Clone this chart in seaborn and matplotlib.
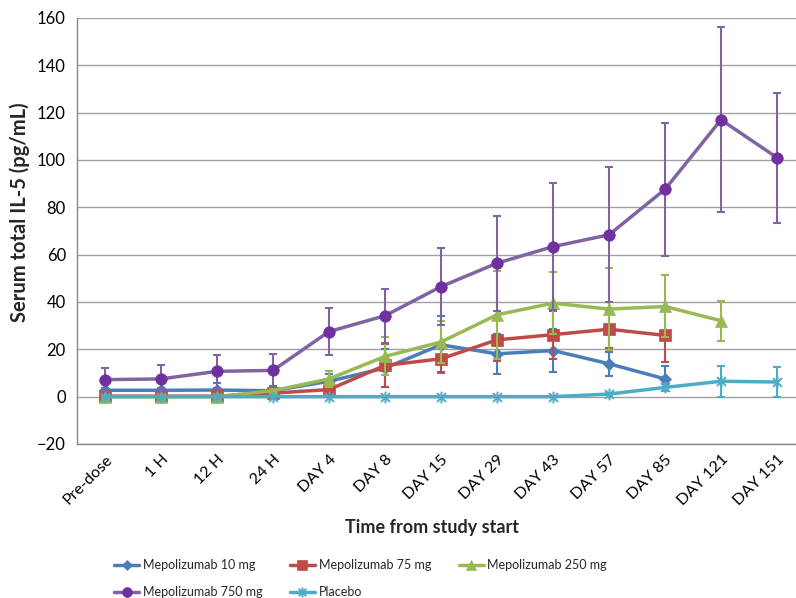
import numpy as np
import pandas as pd
import matplotlib
matplotlib.use("Agg")
import matplotlib.pyplot as plt
from matplotlib.path import Path
import seaborn as sns

categories = ["Pre-dose", "1 H", "12 H", "24 H", "DAY 4", "DAY 8", "DAY 15",
              "DAY 29", "DAY 43", "DAY 57", "DAY 85", "DAY 121", "DAY 151"]

nan = np.nan
mep10 = [2.7, 2.7, 2.8, 2.5, 6.5, 12.1, 21.9, 18.1, 19.5, 13.9, 7.5, nan, nan]
mep10_err = [1.0, 1.0, 2.8, 2.0, 3.0, 8.0, 12.1, 8.5, 9.2, 5.0, 5.3, nan, nan]

mep75 = [0.2, 0.2, 0.2, 1.5, 3.0, 13.2, 16.0, 24.0, 26.2, 28.5, 25.9, nan, nan]
mep75_err = [0.3, 0.3, 0.3, 1.0, 1.5, 9.0, 5.6, 9.1, 10.2, 8.0, 11.3, nan, nan]

mep250 = [0.0, 0.0, 0.0, 2.5, 7.5, 17.0, 23.1, 34.6, 39.5, 37.0, 38.1, 32.1, nan]
mep250_err = [0.3, 0.3, 0.3, 1.0, 3.5, 8.0, 9.0, 18.6, 13.0, 17.3, 13.1, 8.5, nan]

mep750 = [7.2, 7.5, 10.7, 11.1, 27.5, 34.2, 46.5, 56.4, 63.4, 68.4, 87.6, 117.0, 101.0]
mep750_err = [4.9, 5.7, 7.0, 6.9, 10.0, 11.5, 16.2, 20.0, 26.8, 28.5, 28.1, 39.0, 27.5]

placebo = [0.0, 0.0, 0.0, 0.0, 0.0, 0.0, 0.0, 0.0, 0.0, 1.1, 3.9, 6.5, 6.2]
placebo_err = [0.0, 0.0, 0.0, 0.0, 0.0, 0.0, 0.0, 0.0, 0.0, 0.5, 1.5, 6.5, 6.4]

series_names = ["Mepolizumab 10 mg", "Mepolizumab 75 mg", "Mepolizumab 250 mg",
                "Mepolizumab 750 mg", "Placebo"]

sns.set_theme(style="white")
plt.rcParams["font.family"] = ["Lato", "DejaVu Sans"]

star = Path([(0, -1), (0, 1), (-0.75, -0.75), (0.75, 0.75), (-0.75, 0.75), (0.75, -0.75)],
            [Path.MOVETO, Path.LINETO, Path.MOVETO, Path.LINETO, Path.MOVETO, Path.LINETO])

styles = [
    dict(line="#4A7EBB", mk="#4A7EBB", marker="D", ms=6.5),
    dict(line="#BE4B48", mk="#BE4B48", marker="s", ms=8.3),
    dict(line="#98B954", mk="#98B954", marker="^", ms=8.8),
    dict(line="#8064A2", mk="#7030A0", marker="o", ms=8.3),
    dict(line="#4BACC6", mk="#4BACC6", marker=star, ms=8.5),
]
data = [(mep10, mep10_err), (mep75, mep75_err), (mep250, mep250_err),
        (mep750, mep750_err), (placebo, placebo_err)]

fig = plt.figure(figsize=(7.96, 5.98), dpi=100)
ax = fig.add_axes([77 / 796, 154 / 598, 728 / 796, 426 / 598])

x_idx = np.arange(len(categories))
handles = []
for i, (name, (vals, errs), st) in enumerate(zip(series_names, data, styles)):
    df = pd.DataFrame({"x": x_idx, "y": vals, "e": errs}).dropna()
    z = 3 + i * 2
    ax.errorbar(df["x"], df["y"], yerr=df["e"], fmt="none", ecolor=st["line"],
                elinewidth=1.5, capsize=3, capthick=1.5, zorder=z)
    is_star = st["marker"] is star
    sns.lineplot(data=df, x="x", y="y", ax=ax, color=st["line"], linewidth=2.5,
                 marker=st["marker"], markersize=st["ms"],
                 markerfacecolor="none" if is_star else st["mk"],
                 markeredgecolor=st["mk"], markeredgewidth=1.4 if is_star else 0.5,
                 zorder=z + 1, label=name, legend=False)
    h, = ax.plot([], [], color=st["line"], linewidth=2.5, marker=st["marker"],
                 markersize=st["ms"] * 0.85,
                 markerfacecolor="none" if is_star else st["mk"],
                 markeredgecolor=st["mk"], markeredgewidth=1.4 if is_star else 0.5)
    handles.append(h)

ax.set_ylim(-20, 160)
ax.set_yticks(np.arange(-20, 161, 20))
ax.set_xlim(-0.5, len(categories) - 0.5)
ax.set_xticks(x_idx)
ax.set_xticklabels(categories, rotation=45, ha="right", va="top",
                   rotation_mode="anchor", fontsize=11.5, color="#000000")
ax.set_xticks(np.arange(-0.5, len(categories), 1), minor=True)
ax.tick_params(axis="x", which="major", length=0, pad=6)
ax.tick_params(axis="x", which="minor", length=5, width=1, color="#868686", direction="out")
ax.tick_params(axis="y", which="major", length=5, width=1, color="#868686",
               direction="out", labelsize=12, labelcolor="#000000", pad=3)
ax.yaxis.grid(True, color="#A0A0A0", linewidth=1)
ax.set_axisbelow(True)
for s in ["top", "right"]:
    ax.spines[s].set_visible(False)
for s in ["left", "bottom"]:
    ax.spines[s].set_color("#868686")
    ax.spines[s].set_linewidth(1)

ax.set_xlabel("Time from study start", fontsize=13, fontweight="bold")
ax.xaxis.set_label_coords((432 - 77) / 728, (444 - 519) / 426)
ax.set_ylabel("Serum total IL-5 (pg/mL)", fontsize=14.5, fontweight="bold")
ax.yaxis.set_label_coords((30 - 77) / 728, (444 - 212) / 426)

order = [0, 3, 1, 4, 2]
leg = fig.legend([handles[k] for k in order], [series_names[k] for k in order],
                 ncol=3, loc="upper left", bbox_to_anchor=(114 / 796, 1 - 559 / 598),
                 frameon=False, fontsize=9, handlelength=2.0, handletextpad=0.3,
                 columnspacing=2.2, labelspacing=1.2, borderaxespad=0, borderpad=0)

fig.savefig("out.png", dpi=100)
